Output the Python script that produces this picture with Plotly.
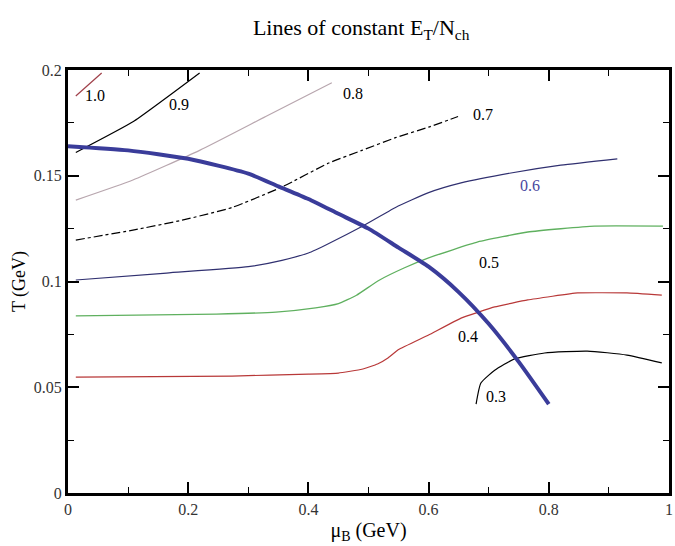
import plotly.graph_objects as go

# Freeze-out curve (thick blue)
fo_mu = [0.0, 0.1, 0.2, 0.3, 0.35, 0.4, 0.45, 0.5, 0.55, 0.6, 0.65, 0.7, 0.75, 0.8]
fo_T = [0.164, 0.162, 0.158, 0.151, 0.145, 0.139, 0.132, 0.125, 0.116, 0.107, 0.095, 0.080, 0.062, 0.042]

# Lines of constant E_T/N_ch
c10_mu = [0.013, 0.056]
c10_T = [0.1877, 0.1986]

c09_mu = [0.013, 0.108, 0.219]
c09_T = [0.161, 0.1755, 0.1986]

c08_mu = [0.013, 0.108, 0.219, 0.329, 0.439]
c08_T = [0.1385, 0.148, 0.162, 0.178, 0.194]

c07_mu = [0.013, 0.108, 0.19, 0.273, 0.356, 0.434, 0.489, 0.545, 0.60, 0.649]
c07_T = [0.1196, 0.1243, 0.129, 0.135, 0.1447, 0.156, 0.162, 0.168, 0.173, 0.178]

c06_mu = [0.013, 0.164, 0.30, 0.356, 0.40, 0.434, 0.489, 0.545, 0.60, 0.654, 0.737, 0.82, 0.914]
c06_T = [0.1007, 0.104, 0.107, 0.110, 0.1135, 0.118, 0.126, 0.135, 0.142, 0.1466, 0.1513, 0.155, 0.158]

c05_mu = [0.013, 0.247, 0.346, 0.412, 0.45, 0.48, 0.517, 0.56, 0.60, 0.682, 0.765, 0.876, 0.99]
c05_T = [0.0837, 0.0846, 0.0855, 0.0875, 0.0895, 0.0935, 0.1005, 0.1065, 0.1112, 0.1187, 0.1234, 0.1262, 0.1262]

c04_mu = [0.013, 0.273, 0.40, 0.45, 0.489, 0.515, 0.533, 0.55, 0.60, 0.654, 0.71, 0.765, 0.848, 0.93, 0.988]
c04_T = [0.0548, 0.0553, 0.0562, 0.0567, 0.0585, 0.061, 0.064, 0.0678, 0.0747, 0.0827, 0.088, 0.0913, 0.0946, 0.0946, 0.0936]

c03_mu = [0.679, 0.687, 0.71, 0.743, 0.793, 0.864, 0.93, 0.988]
c03_T = [0.042, 0.052, 0.058, 0.0634, 0.0662, 0.0671, 0.0652, 0.0615]

label_text = ["1.0", "0.9", "0.8", "0.7", "0.6", "0.5", "0.4", "0.3"]
label_mu = [0.045, 0.185, 0.475, 0.69, 0.768, 0.70, 0.666, 0.712]
label_T = [0.188, 0.1835, 0.189, 0.179, 0.1455, 0.109, 0.0738, 0.0455]
label_color = ["black", "black", "black", "black", "#4848a0", "black", "black", "black"]

x_ticks = [0, 0.2, 0.4, 0.6, 0.8, 1]
x_ticklabels = ["0", "0.2", "0.4", "0.6", "0.8", "1"]
y_ticks = [0, 0.05, 0.1, 0.15, 0.2]
y_ticklabels = ["0", "0.05", "0.1", "0.15", "0.2"]

FONT = "Liberation Serif"

fig = go.Figure()
curves = [
    (c10_mu, c10_T, "#a0404a", 1.2, "solid", 0.4),
    (c09_mu, c09_T, "black", 1.2, "solid", 0.4),
    (c08_mu, c08_T, "#b8a6ae", 1.2, "solid", 0.5),
    (c07_mu, c07_T, "black", 1.2, "dashdot", 0.5),
    (c06_mu, c06_T, "#303070", 1.2, "solid", 0.5),
    (c05_mu, c05_T, "#5fb05f", 1.3, "solid", 0.4),
    (c04_mu, c04_T, "#b83838", 1.2, "solid", 0.3),
    (c03_mu, c03_T, "black", 1.2, "solid", 0.5),
]
for mx, ty, col, w, dash, sm in curves:
    fig.add_trace(go.Scatter(x=mx, y=ty, mode="lines",
                             line=dict(color=col, width=w, dash=dash, shape="spline", smoothing=sm),
                             showlegend=False, hoverinfo="skip"))

fig.add_trace(go.Scatter(x=fo_mu, y=fo_T, mode="lines",
                         line=dict(color="#3a3c9a", width=4, shape="spline", smoothing=0.6),
                         showlegend=False, hoverinfo="skip"))

for t, mx, ty, col in zip(label_text, label_mu, label_T, label_color):
    fig.add_annotation(x=mx, y=ty, text=t, showarrow=False, font=dict(family=FONT, size=16, color=col))

axis_common = dict(
    showline=True, linecolor="black", linewidth=3, mirror="ticks",
    ticks="inside", ticklen=11, tickwidth=1.5, tickcolor="black",
    showgrid=False, zeroline=False,
    tickfont=dict(family=FONT, size=16, color="#333"),
)

fig.update_xaxes(range=[0, 1], tickvals=x_ticks, ticktext=x_ticklabels,
                 minor=dict(ticks="inside", ticklen=6, tickwidth=1.2, tickcolor="black", dtick=0.1, showgrid=False),
                 title=dict(text="μ<sub>B</sub> (GeV)", font=dict(family=FONT, size=20, color="black"), standoff=6),
                 **axis_common)
fig.update_yaxes(range=[0, 0.2], tickvals=y_ticks, ticktext=y_ticklabels,
                 minor=dict(ticks="inside", ticklen=6, tickwidth=1.2, tickcolor="black", dtick=0.025, showgrid=False),
                 title=dict(text="T (GeV)", font=dict(family=FONT, size=18, color="black"), standoff=4),
                 **axis_common)

fig.update_layout(
    width=675, height=546,
    margin=dict(l=68, r=3, t=70, b=53),
    paper_bgcolor="white", plot_bgcolor="white",
    title=dict(text="Lines of constant E<sub>T</sub>/N<sub>ch</sub>", x=0.535, xanchor="center", y=0.95, yanchor="middle",
               font=dict(family=FONT, size=22, color="black")),
)

fig.write_html("out.html")
